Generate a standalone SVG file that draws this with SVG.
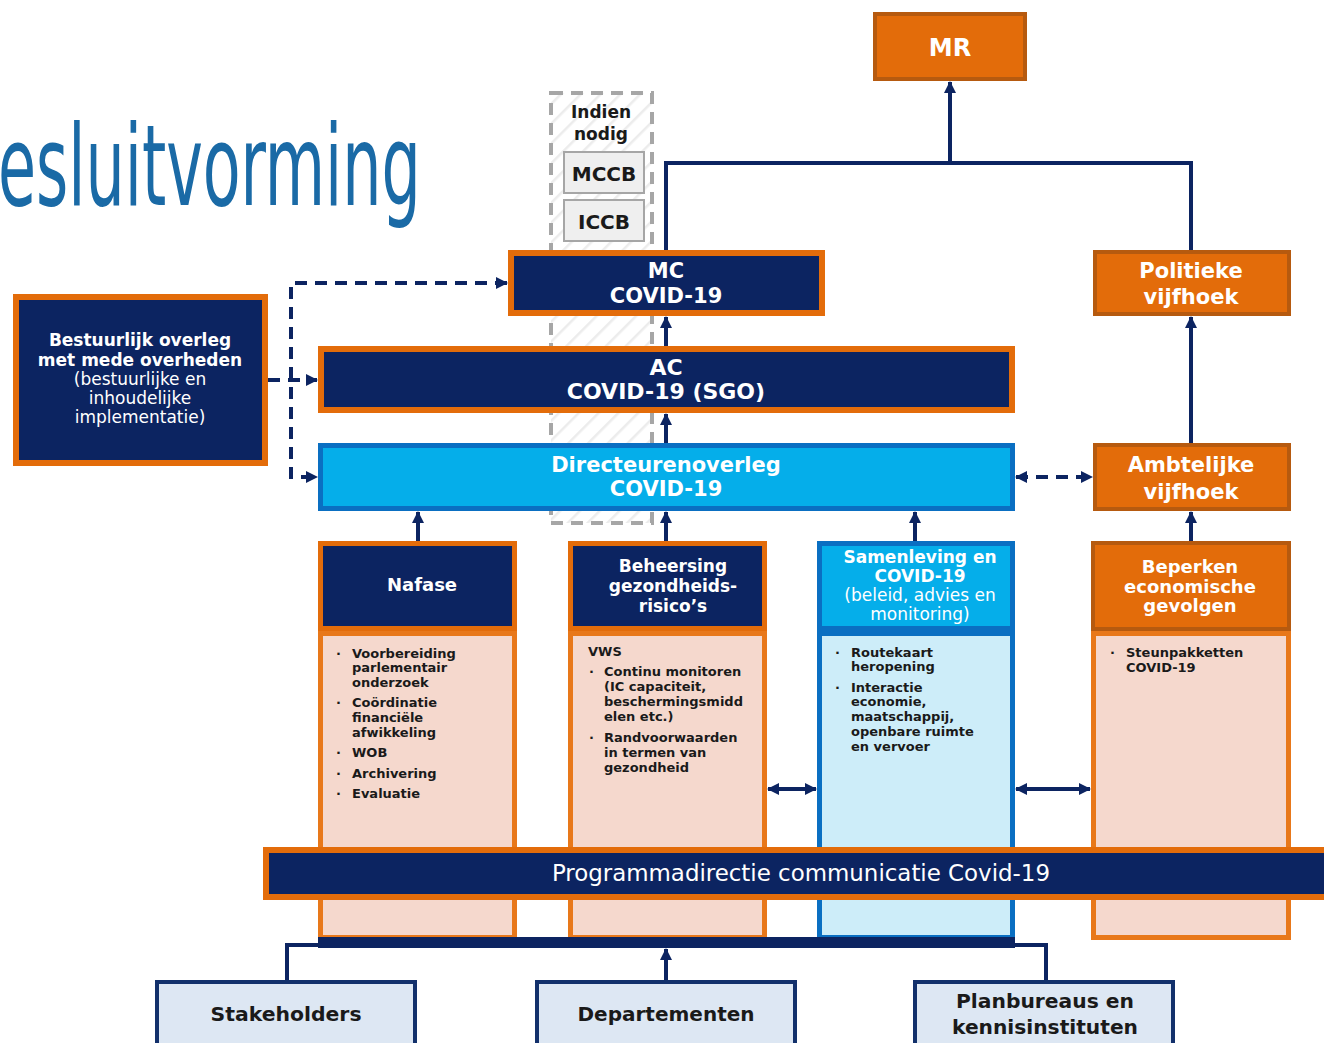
<svg xmlns="http://www.w3.org/2000/svg" width="1324" height="1043" viewBox="0 0 1324 1043">
<style>
.t{font-family:"DejaVu Sans","Verdana",sans-serif;font-weight:bold;fill:#fff;text-anchor:middle}
.n{font-weight:normal}
.b{font-family:"DejaVu Sans","Verdana",sans-serif;font-weight:bold;font-size:13px;fill:#1a1a1a}
.navy{fill:#0c2461;stroke:#e36c0a}
.org{fill:#e36c0a;stroke:#b65a0f;stroke-width:4}
.pink{fill:#f5d8cd;stroke:#e8781a;stroke-width:5}
.lb{fill:#05aeea;stroke:#0a6fc2;stroke-width:5}
.pb{fill:#cdedf9;stroke:#0a6fc2;stroke-width:5}
.bot{fill:#dde7f3;stroke:#12306b;stroke-width:4}
.ln{fill:none;stroke:#0c2461;stroke-width:4}
.ds{fill:none;stroke:#0c2461;stroke-width:4;stroke-dasharray:12 8}
.dk{font-family:"DejaVu Sans",sans-serif;font-weight:bold;fill:#1a1a1a;text-anchor:middle}
</style>
<defs>
<marker id="ah" viewBox="0 0 12 12" refX="11" refY="6" markerWidth="12" markerHeight="12" markerUnits="userSpaceOnUse" orient="auto-start-reverse">
<path d="M0,0 L12,6 L0,12 z" fill="#0c2461"/>
</marker>
<pattern id="hatch" width="14" height="14" patternUnits="userSpaceOnUse" patternTransform="rotate(45)">
<rect width="14" height="14" fill="#fff"/>
<line x1="0" y1="0" x2="0" y2="14" stroke="#ececec" stroke-width="5"/>
</pattern>
</defs>
<rect width="1324" height="1043" fill="#fff"/>

<text transform="translate(-2,205) scale(0.614,1)" x="0" y="0" font-family="DejaVu Sans Condensed, DejaVu Sans, sans-serif" font-size="112" fill="#1a6aa6">esluitvorming</text>

<g id="indien-nodig">
<rect x="551" y="93" width="101" height="430" fill="url(#hatch)" stroke="#a6a6a6" stroke-width="4" stroke-dasharray="12 8"/>
<text class="dk" x="601" y="118" font-size="17">Indien</text>
<text class="dk" x="601" y="140" font-size="17">nodig</text>
</g>
<g id="mccb">
<rect x="564" y="152" width="80" height="41" fill="#efefef" stroke="#a6a6a6" stroke-width="2"/>
<text class="dk" x="604" y="181" font-size="20">MCCB</text>
</g>
<g id="iccb">
<rect x="564" y="200" width="80" height="41" fill="#efefef" stroke="#a6a6a6" stroke-width="2"/>
<text class="dk" x="604" y="229" font-size="20">ICCB</text>
</g>

<g id="connectors">
<path class="ln" d="M666,250 V163 H1191 V250"/>
<path class="ln" d="M950,163 V82" marker-end="url(#ah)"/>
<path class="ln" d="M1191,443 V317" marker-end="url(#ah)"/>
<path class="ln" d="M1191,541 V512" marker-end="url(#ah)"/>
<path class="ln" d="M666,346 V317" marker-end="url(#ah)"/>
<path class="ln" d="M666,443 V414" marker-end="url(#ah)"/>
<path class="ln" d="M418,541 V512" marker-end="url(#ah)"/>
<path class="ln" d="M666,541 V512" marker-end="url(#ah)"/>
<path class="ln" d="M915,541 V512" marker-end="url(#ah)"/>
<path class="ds" d="M1016,477 H1092" marker-start="url(#ah)" marker-end="url(#ah)"/>
<path class="ln" d="M768,789 H816" marker-start="url(#ah)" marker-end="url(#ah)"/>
<path class="ln" d="M1016,789 H1090" marker-start="url(#ah)" marker-end="url(#ah)"/>
<path class="ds" d="M268,380 H317" marker-end="url(#ah)"/>
<path class="ds" d="M507,283 H291 V477 H317" marker-start="url(#ah)" marker-end="url(#ah)"/>
<path class="ln" d="M287,980 V945 H1046 V980"/>
<path class="ln" d="M666,980 V949" marker-end="url(#ah)"/>
</g>

<g id="mr">
<rect class="org" x="875" y="14" width="150" height="65"/>
<text class="t" x="950" y="56" font-size="24">MR</text>
</g>
<g id="politieke-vijfhoek">
<rect class="org" x="1095" y="252" width="194" height="62"/>
<text class="t" x="1191" y="278" font-size="21">Politieke</text>
<text class="t" x="1191" y="304" font-size="21">vijfhoek</text>
</g>
<g id="mc-covid">
<rect class="navy" x="511" y="253" width="311" height="60" stroke-width="6"/>
<text class="t" x="666" y="278" font-size="21">MC</text>
<text class="t" x="666" y="303" font-size="21">COVID-19</text>
</g>
<g id="ac-covid">
<rect class="navy" x="321" y="349" width="691" height="61" stroke-width="6"/>
<text class="t" x="666" y="375" font-size="22">AC</text>
<text class="t" x="666" y="399" font-size="22">COVID-19 (SGO)</text>
</g>
<g id="bestuurlijk-overleg">
<rect class="navy" x="16" y="297" width="249" height="166" stroke-width="6"/>
<text class="t" x="140" y="346" font-size="17">Bestuurlijk overleg</text>
<text class="t" x="140" y="366" font-size="17">met mede overheden</text>
<text class="t n" x="140" y="385" font-size="17">(bestuurlijke en</text>
<text class="t n" x="140" y="404" font-size="17">inhoudelijke</text>
<text class="t n" x="140" y="423" font-size="17">implementatie)</text>
</g>
<g id="directeurenoverleg">
<rect class="lb" x="320.5" y="445.5" width="692" height="63"/>
<text class="t" x="666" y="472" font-size="21">Directeurenoverleg</text>
<text class="t" x="666" y="496" font-size="21">COVID-19</text>
</g>
<g id="ambtelijke-vijfhoek">
<rect class="org" x="1095" y="445" width="194" height="64"/>
<text class="t" x="1191" y="472" font-size="21">Ambtelijke</text>
<text class="t" x="1191" y="499" font-size="21">vijfhoek</text>
</g>

<g id="nafase">
<rect class="pink" x="320.5" y="633.5" width="194" height="304"/>
<rect class="navy" x="320.5" y="543.5" width="194" height="85" stroke-width="5"/>
<text class="t" x="422" y="591" font-size="18">Nafase</text>
<g class="b">
<text x="336" y="658">·</text>
<text x="352" y="658">Voorbereiding</text>
<text x="352" y="672">parlementair</text>
<text x="352" y="687">onderzoek</text>
<text x="336" y="707">·</text>
<text x="352" y="707">Coördinatie</text>
<text x="352" y="722">financiële</text>
<text x="352" y="737">afwikkeling</text>
<text x="336" y="757">·</text>
<text x="352" y="757">WOB</text>
<text x="336" y="778">·</text>
<text x="352" y="778">Archivering</text>
<text x="336" y="798">·</text>
<text x="352" y="798">Evaluatie</text>
</g>
</g>
<g id="beheersing">
<rect class="pink" x="570.5" y="633.5" width="194" height="304"/>
<rect class="navy" x="570.5" y="543.5" width="194" height="85" stroke-width="5"/>
<text class="t" x="673" y="572" font-size="17">Beheersing</text>
<text class="t" x="673" y="592" font-size="17">gezondheids-</text>
<text class="t" x="673" y="612" font-size="17">risico’s</text>
<g class="b">
<text x="588" y="656">VWS</text>
<text x="589" y="676">·</text>
<text x="604" y="676">Continu monitoren</text>
<text x="604" y="691">(IC capaciteit,</text>
<text x="604" y="706">beschermingsmidd</text>
<text x="604" y="721">elen etc.)</text>
<text x="589" y="742">·</text>
<text x="604" y="742">Randvoorwaarden</text>
<text x="604" y="757">in termen van</text>
<text x="604" y="772">gezondheid</text>
</g>
</g>
<g id="samenleving">
<rect class="pb" x="819.5" y="633.5" width="193" height="304"/>
<rect class="lb" x="819.5" y="543.5" width="193" height="85"/>
<text class="t" x="920" y="563" font-size="17">Samenleving en</text>
<text class="t" x="920" y="582" font-size="17">COVID-19</text>
<text class="t n" x="920" y="601" font-size="17">(beleid, advies en</text>
<text class="t n" x="920" y="620" font-size="17">monitoring)</text>
<g class="b">
<text x="835" y="657">·</text>
<text x="851" y="657">Routekaart</text>
<text x="851" y="671">heropening</text>
<text x="835" y="692">·</text>
<text x="851" y="692">Interactie</text>
<text x="851" y="706">economie,</text>
<text x="851" y="721">maatschappij,</text>
<text x="851" y="736">openbare ruimte</text>
<text x="851" y="751">en vervoer</text>
</g>
</g>
<g id="beperken">
<rect class="pink" x="1093.5" y="633.5" width="195" height="304"/>
<rect class="org" x="1093" y="543" width="196" height="86" stroke-width="5"/>
<text class="t" x="1190" y="573" font-size="18">Beperken</text>
<text class="t" x="1190" y="593" font-size="18">economische</text>
<text class="t" x="1190" y="612" font-size="18">gevolgen</text>
<g class="b">
<text x="1110" y="657">·</text>
<text x="1126" y="657">Steunpakketten</text>
<text x="1126" y="672">COVID-19</text>
</g>
</g>

<g id="programmadirectie">
<rect class="navy" x="266" y="850" width="1070" height="47" stroke-width="6"/>
<text x="801" y="881" font-family="DejaVu Sans Condensed, DejaVu Sans, sans-serif" font-size="23" fill="#fff" text-anchor="middle" textLength="498" lengthAdjust="spacingAndGlyphs">Programmadirectie communicatie Covid-19</text>
</g>
<g id="bottom-bar">
<rect x="318" y="937" width="697" height="11" fill="#0c2461"/>
</g>

<g id="stakeholders">
<rect class="bot" x="157" y="982" width="258" height="70"/>
<text class="dk" x="286" y="1021" font-size="19" textLength="151" lengthAdjust="spacingAndGlyphs">Stakeholders</text>
</g>
<g id="departementen">
<rect class="bot" x="537" y="982" width="258" height="70"/>
<text class="dk" x="666" y="1021" font-size="19" textLength="177" lengthAdjust="spacingAndGlyphs">Departementen</text>
</g>
<g id="planbureaus">
<rect class="bot" x="915" y="982" width="258" height="70"/>
<text class="dk" x="1045" y="1008" font-size="19" textLength="178" lengthAdjust="spacingAndGlyphs">Planbureaus en</text>
<text class="dk" x="1045" y="1034" font-size="19" textLength="186" lengthAdjust="spacingAndGlyphs">kennisinstituten</text>
</g>
</svg>
